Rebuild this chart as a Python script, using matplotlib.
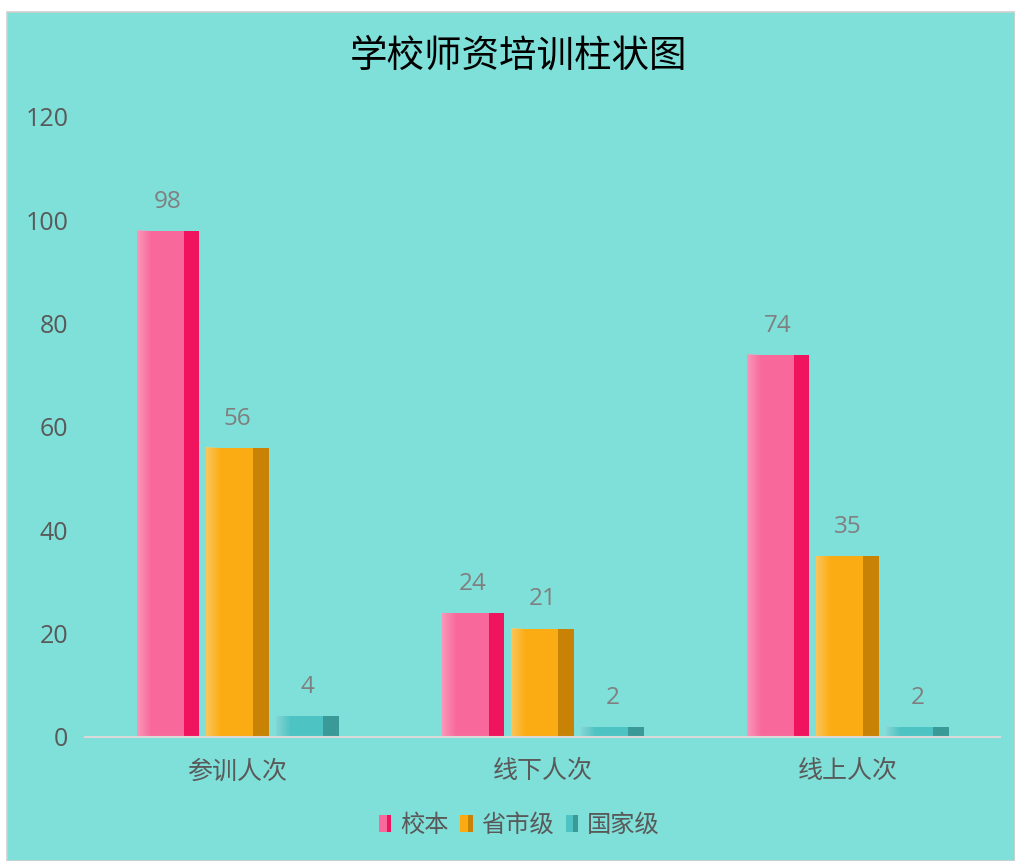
import matplotlib
matplotlib.use("Agg")
import matplotlib.pyplot as plt
import numpy as np
from matplotlib.patches import Rectangle
from matplotlib.legend_handler import HandlerBase
from matplotlib.colors import to_rgb

plt.rcParams['font.family'] = ['Open Sans', 'Noto Sans CJK SC', 'DejaVu Sans']

# data
categories = ['参训人次', '线下人次', '线上人次']
series_names = ['校本', '省市级', '国家级']
values_school = [98, 24, 74]
values_province = [56, 21, 35]
values_national = [4, 2, 2]

front_colors = ['#F8689A', '#FBAC12', '#4EC3C3']
side_colors = ['#F0145E', '#C88205', '#3A9A98']
BG = '#7FDFD9'

fig = plt.figure(figsize=(10.15, 8.61), dpi=100, facecolor='white')
# teal panel with thin border, white margin at top/left
fig.patches.append(Rectangle((7 / 1015, 0), 1 - 7 / 1015, 1 - 12 / 861,
                             transform=fig.transFigure, facecolor=BG,
                             edgecolor='#D0D0D0', linewidth=1.2, zorder=-1))

ax = fig.add_axes([85 / 1015, 1 - 737 / 861, 915 / 1015, (737 - 117) / 861])
ax.set_facecolor('none')

x = np.arange(len(categories))
all_vals = [values_school, values_province, values_national]
offsets = [-0.228, 0.0, 0.23]
total_w = 0.206
front_w = 0.154
side_w = total_w - front_w

for vals, off, fc, sc in zip(all_vals, offsets, front_colors, side_colors):
    left = x + off - total_w / 2
    ax.bar(left, vals, width=front_w, align='edge', color=fc, zorder=2)
    ax.bar(left + front_w, vals, width=side_w, align='edge', color=sc, zorder=2)
    # soft highlight at left edge of front face
    rgb = np.array(to_rgb(fc))
    light = rgb + (1 - rgb) * 0.35
    grad = np.zeros((1, 32, 4))
    grad[0, :, :3] = light
    grad[0, :, 3] = np.linspace(0.9, 0.0, 32)
    for xl, v in zip(left, vals):
        ax.imshow(grad, extent=[xl, xl + front_w * 0.3, 0, v], aspect='auto',
                  zorder=3, interpolation='bilinear')
    for xc, v in zip(x + off, vals):
        ax.text(xc, v + 3.3, str(v), ha='center', va='bottom',
                fontsize=17.5, color='#7F7F7F', zorder=4)

ax.set_xlim(-0.5, 2.5)
ax.set_ylim(0, 120)
ax.set_yticks(range(0, 121, 20))
ax.set_xticks(x)
ax.set_xticklabels(categories)
ax.tick_params(axis='both', length=0, labelsize=18, labelcolor='#595959')
ax.tick_params(axis='y', pad=12)
ax.tick_params(axis='x', pad=16)
for s in ['top', 'right', 'left']:
    ax.spines[s].set_visible(False)
ax.spines['bottom'].set_color('#D9D9D9')
ax.spines['bottom'].set_linewidth(1.5)
ax.spines['bottom'].set_zorder(5)

fig.text(518 / 1015, 1 - 57 / 861, '学校师资培训柱状图', ha='center', va='center',
         fontsize=27, color='black')


class TwoToneHandler(HandlerBase):
    def __init__(self, front, side):
        super().__init__()
        self.front = front
        self.side = side

    def create_artists(self, legend, orig_handle, xdescent, ydescent,
                       width, height, fontsize, trans):
        h = height * 1.0
        w = h * 0.75
        x0 = width - w
        y0 = (height - h) / 2
        r1 = Rectangle((x0, y0), w * 0.62, h, facecolor=self.front,
                       edgecolor='none', transform=trans)
        r2 = Rectangle((x0 + w * 0.62, y0), w * 0.38, h, facecolor=self.side,
                       edgecolor='none', transform=trans)
        return [r1, r2]


handles = [Rectangle((0, 0), 1, 1) for _ in series_names]
handler_map = {h: TwoToneHandler(f, s) for h, f, s in zip(handles, front_colors, side_colors)}
leg = fig.legend(handles, series_names, handler_map=handler_map, loc='center',
                 bbox_to_anchor=(517 / 1015, 1 - 826 / 861), ncol=3, frameon=False,
                 fontsize=17.5, handlelength=0.7, handletextpad=0.35, columnspacing=0.3)
for t in leg.get_texts():
    t.set_color('#595959')

fig.savefig('out.png', dpi=100, facecolor=fig.get_facecolor())
